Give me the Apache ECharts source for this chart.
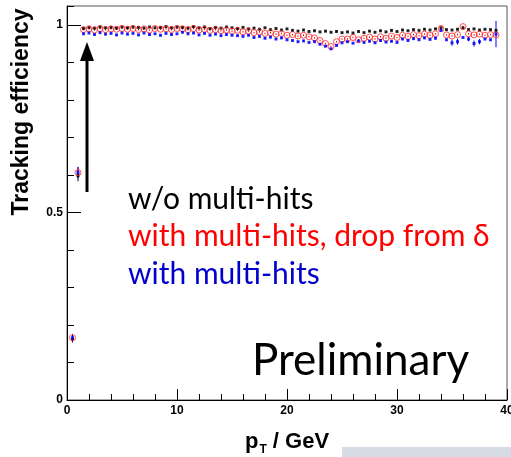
<!DOCTYPE html>
<html><head><meta charset="utf-8">
<style>html,body{margin:0;padding:0;background:#fff}#c{width:511px;height:457px}</style>
<script src="https://cdn.jsdelivr.net/npm/echarts@6/dist/echarts.min.js"></script>
</head><body><div id="c"></div>
<script>
// pT bin centres (GeV)
const pT = [0.5, 1.0,
 1.5,2,2.5,3,3.5,4,4.5,5,
 5.5,6,6.5,7,7.5,8,8.5,9,9.5,10,
 10.5,11,11.5,12,12.5,13,13.5,14,14.5,15,
 15.5,16,16.5,17,17.5,18,18.5,19,19.5,20,
 20.5,21,21.5,22,22.5,23,23.5,24,24.5,25,
 25.5,26,26.5,27,27.5,28,28.5,29,29.5,30,
 30.5,31,31.5,32,32.5,33,33.5,34,34.5,35,
 35.5,36,36.5,37,37.5,38,38.5,39];

const effNoMulti = [0.163, 0.598,
 0.990,0.993,0.991,0.994,0.992,0.993,0.991,0.994,
 0.992,0.994,0.993,0.991,0.994,0.992,0.993,0.995,0.992,0.994,
 0.993,0.991,0.995,0.992,0.994,0.990,0.993,0.991,0.994,0.992,
 0.990,0.993,0.989,0.991,0.988,0.992,0.987,0.990,0.986,0.989,
 0.985,0.983,0.986,0.982,0.984,0.981,0.983,0.980,0.982,0.979,
 0.981,0.978,0.982,0.979,0.983,0.980,0.984,0.981,0.985,0.982,
 0.986,0.984,0.987,0.985,0.988,0.986,0.989,0.992,0.987,0.986,
 0.988,0.992,0.987,0.989,0.986,0.988,0.987,0.985];

const effMultiDrop = [0.166, 0.606,
 0.987,0.989,0.986,0.990,0.987,0.989,0.988,0.990,
 0.988,0.990,0.987,0.989,0.986,0.990,0.988,0.989,0.987,0.990,
 0.989,0.987,0.990,0.986,0.988,0.985,0.987,0.984,0.986,0.983,
 0.985,0.981,0.983,0.979,0.981,0.977,0.979,0.975,0.977,0.972,
 0.974,0.970,0.972,0.968,0.965,0.958,0.950,0.942,0.955,0.962,
 0.962,0.966,0.960,0.964,0.967,0.962,0.968,0.964,0.970,0.966,
 0.972,0.969,0.974,0.971,0.975,0.972,0.976,0.990,0.973,0.970,
 0.974,0.995,0.976,0.973,0.975,0.972,0.974,0.973];

const effMulti = [0.166, 0.606,
 0.976,0.978,0.974,0.979,0.975,0.977,0.973,0.978,
 0.975,0.977,0.973,0.978,0.974,0.976,0.972,0.977,0.974,0.976,
 0.980,0.976,0.978,0.973,0.977,0.972,0.975,0.971,0.974,0.972,
 0.971,0.969,0.972,0.966,0.969,0.964,0.967,0.962,0.965,0.960,
 0.958,0.955,0.957,0.953,0.955,0.948,0.943,0.936,0.945,0.952,
 0.955,0.951,0.957,0.953,0.956,0.952,0.958,0.954,0.956,0.953,
 0.962,0.958,0.963,0.960,0.965,0.961,0.964,0.985,0.960,0.952,
 0.955,0.966,0.962,0.950,0.955,0.962,0.960,0.975];

// statistical errors
const errSmall = 0.002;
const errLow = [0.010, 0.015];
const errMultiLarge = {35: 0.008, 35.5: 0.008, 36.5: 0.006, 37: 0.008, 37.5: 0.007, 39: 0.035};

const xTicks = ['0','10','20','30','40'];
const yTicks = ['0','0.5','1'];

function errOf(i, big) {
  if (i < 2) return errLow[i];
  if (big && big[pT[i]] !== undefined) return big[pT[i]];
  return errSmall;
}
function pts(vals) { return pT.map((x, i) => [x, vals[i]]); }
function errs(vals, big) { return pT.map((x, i) => { const e = errOf(i, big); return [x, vals[i] - e, vals[i] + e]; }); }
function errSeries(vals, color, big) {
  return {
    type: 'custom', xAxisIndex: 0, yAxisIndex: 0, silent: true,
    data: errs(vals, big),
    renderItem: function (params, api) {
      const a = api.coord([api.value(0), api.value(1)]);
      const b = api.coord([api.value(0), api.value(2)]);
      return { type: 'line', shape: { x1: a[0], y1: a[1], x2: b[0], y2: b[1] }, style: { stroke: color, lineWidth: 1 } };
    }
  };
}

const chart = echarts.init(document.getElementById('c'), null, { renderer: 'canvas' });
const boldFont = 'Liberation Sans';
chart.setOption({
  animation: false,
  grid: { left: 67, right: 4, top: 6, bottom: 57, containLabel: false, outerBoundsMode: 'none',
    show: true, borderColor: '#555', borderWidth: 1, backgroundColor: 'transparent' },
  xAxis: [{
    type: 'value', min: 0, max: 40, interval: 10,
    axisLine: { lineStyle: { color: '#000', width: 1 } },
    axisTick: { inside: true, length: 11, lineStyle: { color: '#000' } },
    minorTick: { show: true, splitNumber: 5, length: 6, lineStyle: { color: '#000' } },
    splitLine: { show: false },
    axisLabel: { margin: 5, color: '#000', fontFamily: boldFont, fontWeight: 'bold', fontSize: 12,
      formatter: v => xTicks[Math.round(v / 10)] },
    name: '{p|p}{s|T}{p| / GeV}', nameLocation: 'middle', nameGap: 28,
    nameTextStyle: { rich: {
      p: { fontFamily: boldFont, fontWeight: 'bold', fontSize: 22, color: '#000' },
      s: { fontFamily: boldFont, fontWeight: 'bold', fontSize: 12, color: '#000', padding: [16, 0, 0, 1] }
    } }
  }],
  yAxis: [{
    type: 'value', min: 0, max: 1.05, interval: 0.5,
    axisLine: { show: true, lineStyle: { color: '#000', width: 1 } },
    axisTick: { show: true, inside: true, length: 14, lineStyle: { color: '#000' } },
    splitLine: { show: false },
    axisLabel: { margin: 4, color: '#000', fontFamily: boldFont, fontWeight: 'bold', fontSize: 12, showMaxLabel: false,
      formatter: v => { const k = Math.round(v / 0.5); return (Math.abs(v - k * 0.5) < 1e-6 && k < yTicks.length) ? yTicks[k] : ''; } }
  }, {
    type: 'value', min: 0, max: 1.05, interval: 0.1, position: 'left', offset: 0,
    axisLine: { show: false },
    axisTick: { show: true, inside: true, length: 7, lineStyle: { color: '#000' } },
    splitLine: { show: false },
    axisLabel: { show: false }
  }],
  series: [
    errSeries(effNoMulti, '#000'),
    errSeries(effMultiDrop, '#ff0000'),
    errSeries(effMulti, '#0000ff', errMultiLarge),
    { type: 'scatter', yAxisIndex: 0, data: pts(effNoMulti), symbol: 'rect', symbolSize: 3,
      itemStyle: { color: '#000' }, silent: true },
    { type: 'scatter', yAxisIndex: 0, data: pts(effMultiDrop), symbol: 'circle', symbolSize: 6,
      itemStyle: { color: 'transparent', borderColor: '#ff2020', borderWidth: 1 }, silent: true },
    { type: 'scatter', yAxisIndex: 0, data: pts(effMulti), symbol: 'rect', symbolSize: 3,
      itemStyle: { color: '#0000ff' }, silent: true }
  ],
  graphic: [
    { type: 'text', x: 22, y: 112, rotation: Math.PI / 2,
      style: { text: 'Tracking efficiency', font: 'bold 23px "Liberation Sans"', fill: '#000', align: 'center', verticalAlign: 'middle' } },
    { type: 'line', shape: { x1: 87, y1: 192, x2: 87, y2: 58 }, style: { stroke: '#000', lineWidth: 3 } },
    { type: 'polygon', shape: { points: [[87, 42], [80, 61], [94, 61]] }, style: { fill: '#000' } },
    { type: 'text', x: 128, y: 184, style: { text: 'w/o multi-hits', font: '30px Lato', fill: '#000', verticalAlign: 'top' } },
    { type: 'text', x: 128, y: 221, style: { text: 'with multi-hits, drop from δ', font: '30px Lato', fill: '#ff0000', verticalAlign: 'top' } },
    { type: 'text', x: 128, y: 259, style: { text: 'with multi-hits', font: '30px Lato', fill: '#0000cc', verticalAlign: 'top' } },
    { type: 'text', x: 252, y: 339, style: { text: 'Preliminary', font: '44px Lato', fill: '#000', verticalAlign: 'top' } },
    { type: 'rect', shape: { x: 342, y: 447, width: 169, height: 10 }, style: { fill: '#d6dce5' } }
  ]
});
</script></body></html>
